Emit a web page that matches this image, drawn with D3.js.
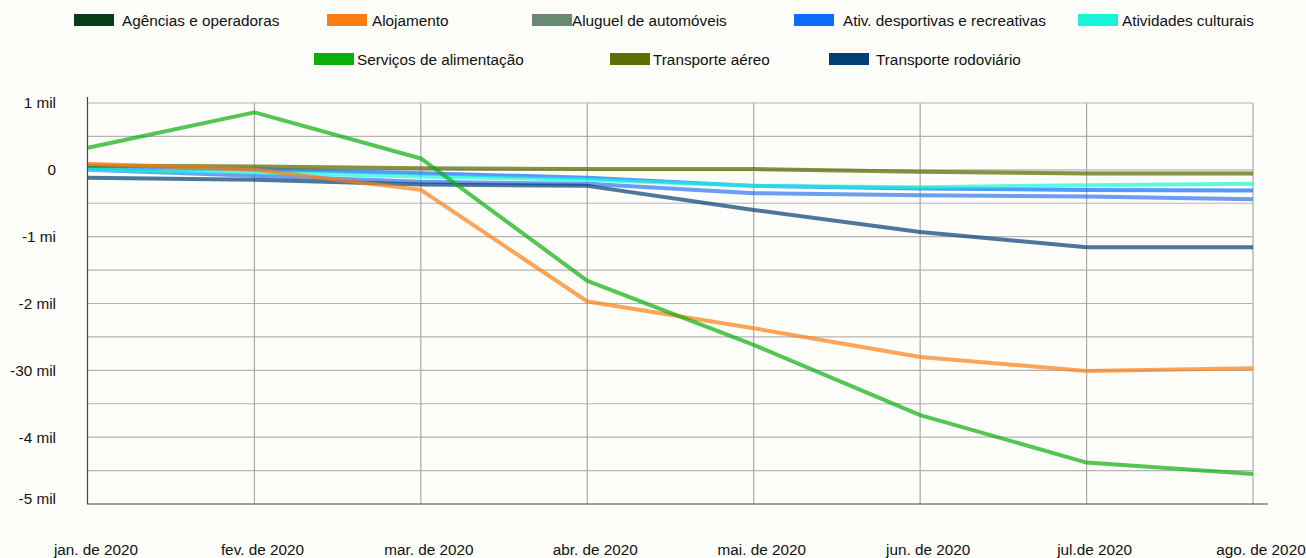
<!DOCTYPE html>
<html>
<head>
<meta charset="utf-8">
<script src="https://cdn.jsdelivr.net/npm/d3@7/dist/d3.min.js"></script>
<style>
    html, body {
        margin: 0;
        padding: 0;
        background-color: #fdfdf9;
    }
    svg text {
        font-family: "Liberation Sans", Arial, sans-serif;
        font-size: 15.3px;
        fill: #111;
    }
</style>
</head>
<body>
<svg id="chart" width="1306" height="558"></svg>
<script>
    // months on the x axis
    const months = ["jan. de 2020", "fev. de 2020", "mar. de 2020", "abr. de 2020",
        "mai. de 2020", "jun. de 2020", "jul.de 2020", "ago. de 2020"];

    // y ticks (values in mil) and their labels as printed
    const tickValues = [1, 0, -1, -2, -3, -4, -5];
    const tickLabels = ["1 mil", "0", "-1 mi", "-2 mil", "-30 mil", "-4 mil", "-5 mil"];

    const seriesNames = ["Agências e operadoras", "Alojamento", "Aluguel de automóveis",
        "Ativ. desportivas e recreativas", "Atividades culturais",
        "Serviços de alimentação", "Transporte aéreo", "Transporte rodoviário"];
    const legendColors = ["#063d17", "#fb7d12", "#6b8a73", "#0a6cff", "#19f5d9",
        "#0cae0c", "#5e7100", "#003f73"];
    const lineColors = ["#063d17", "#fb7d12", "#2f74f0", "#0a6cff", "#19f5d9",
        "#0cae0c", "#5e7100", "#003f73"];
    const lineOpacity = [0.12, 0.7, 0.7, 0.7, 0.7, 0.7, 0.7, 0.7];

    // values per month, in mil
    const agencias     = [0.06, 0.05, 0.02, 0.01, 0.01, -0.03, -0.05, -0.05];
    const alojamento   = [0.09, 0.0, -0.30, -1.97, -2.37, -2.80, -3.01, -2.97];
    const aluguel      = [0.0, -0.09, -0.18, -0.21, -0.35, -0.38, -0.40, -0.44];
    const desportivas  = [0.03, 0.01, -0.05, -0.12, -0.24, -0.28, -0.30, -0.31];
    const culturais    = [0.0, -0.04, -0.10, -0.15, -0.24, -0.26, -0.23, -0.21];
    const alimentacao  = [0.33, 0.86, 0.17, -1.66, -2.62, -3.67, -4.38, -4.55];
    const aereo        = [0.065, 0.05, 0.022, 0.012, 0.012, -0.03, -0.053, -0.053];
    const rodoviario   = [-0.12, -0.15, -0.22, -0.24, -0.60, -0.93, -1.16, -1.16];

    const seriesValues = [agencias, alojamento, aluguel, desportivas, culturais,
        alimentacao, aereo, rodoviario];
    // drawing order, last on top
    const drawOrder = [0, 2, 3, 4, 7, 6, 1, 5];

    const svg = d3.select("#chart");

    const x = d3.scalePoint()
        .domain(months)
        .range([88, 1253]);

    const y = d3.scaleLinear()
        .domain([-5, 1])
        .range([504, 103]);

    // horizontal grid every half mil
    svg.append("g")
        .selectAll("line")
        .data(d3.range(-4.5, 1.01, 0.5))
        .join("line")
        .attr("x1", 88).attr("x2", 1253)
        .attr("y1", d => y(d)).attr("y2", d => y(d))
        .attr("stroke", "#b4b4b4")
        .attr("stroke-width", 1.2);

    // vertical grid
    svg.append("g")
        .selectAll("line")
        .data(months.slice(1))
        .join("line")
        .attr("x1", d => x(d)).attr("x2", d => x(d))
        .attr("y1", y(1)).attr("y2", y(-5))
        .attr("stroke", "#a8a8a8")
        .attr("stroke-width", 1.2);

    // axes lines
    svg.append("line")
        .attr("x1", 87.5).attr("x2", 87.5)
        .attr("y1", 97).attr("y2", y(-5))
        .attr("stroke", "#444").attr("stroke-width", 1.2);
    svg.append("line")
        .attr("x1", 87).attr("x2", 1268)
        .attr("y1", y(-5)).attr("y2", y(-5))
        .attr("stroke", "#444").attr("stroke-width", 1.2);

    // y labels
    svg.append("g")
        .selectAll("text")
        .data(tickValues)
        .join("text")
        .attr("x", 56)
        .attr("y", (d, i) => y(d) + (d === -5 ? -5 : 0))
        .attr("dy", "0.35em")
        .attr("text-anchor", "end")
        .text((d, i) => tickLabels[i]);

    // x labels
    svg.append("g")
        .selectAll("text")
        .data(months)
        .join("text")
        .attr("x", d => x(d) + 8)
        .attr("y", 555)
        .attr("text-anchor", "middle")
        .text(d => d);

    // lines
    const line = d3.line()
        .x((d, i) => x(months[i]))
        .y(d => y(d));

    svg.append("g")
        .selectAll("path")
        .data(drawOrder)
        .join("path")
        .attr("d", k => line(seriesValues[k]))
        .attr("fill", "none")
        .attr("stroke", k => lineColors[k])
        .attr("stroke-opacity", k => lineOpacity[k])
        .attr("stroke-width", 4)
        .attr("stroke-linejoin", "round");

    // legend, two rows
    const legendPos = [
        [74, 20, 122], [327, 20, 372], [532, 20, 572], [794, 20, 843], [1078, 20, 1122],
        [314, 59, 357], [610, 59, 653], [829, 59, 876]
    ];
    const legend = svg.append("g")
        .selectAll("g")
        .data(seriesNames)
        .join("g");
    legend.append("rect")
        .attr("x", (d, i) => legendPos[i][0])
        .attr("y", (d, i) => legendPos[i][1] - 6)
        .attr("width", 40)
        .attr("height", 12)
        .attr("fill", (d, i) => legendColors[i]);
    legend.append("text")
        .attr("x", (d, i) => legendPos[i][2])
        .attr("y", (d, i) => legendPos[i][1] + 1)
        .attr("dy", "0.35em")
        .text(d => d);
</script>
</body>
</html>
